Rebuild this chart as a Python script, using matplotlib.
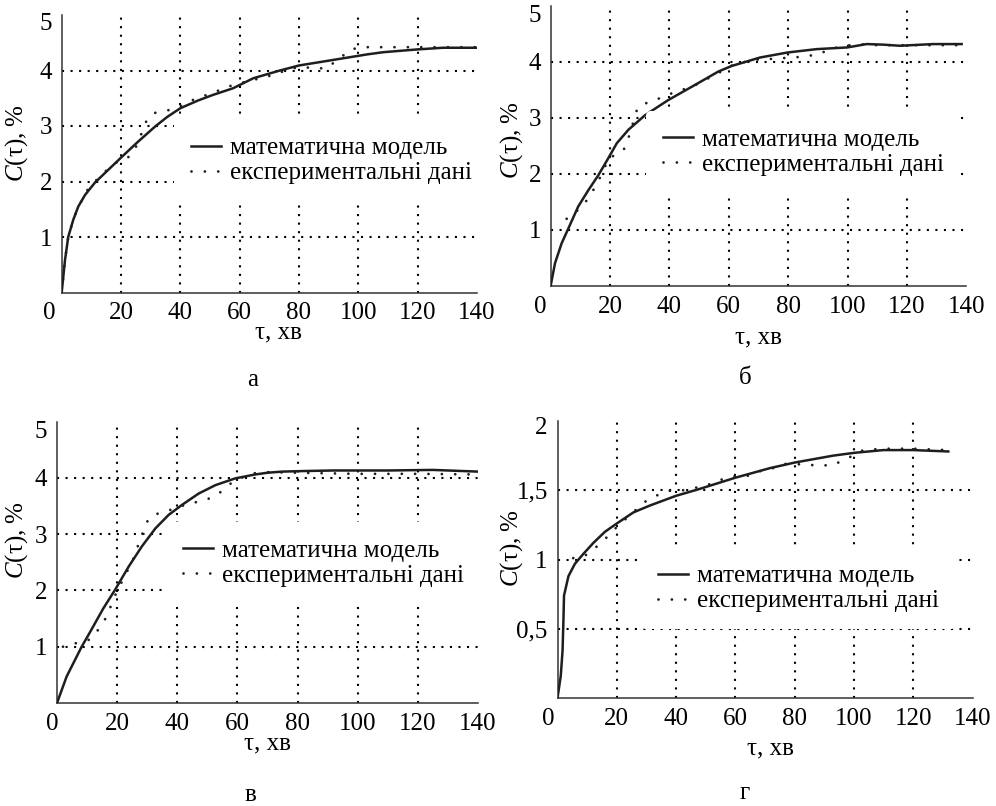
import matplotlib
matplotlib.use('Agg')
import matplotlib.pyplot as plt
from matplotlib.transforms import ScaledTranslation

plt.rcParams['font.family'] = ['Liberation Serif', 'DejaVu Serif']
plt.rcParams['mathtext.fontset'] = 'custom'
plt.rcParams['mathtext.rm'] = 'Liberation Serif'
plt.rcParams['mathtext.it'] = 'Liberation Serif:italic'

# ---- data ----
x_ticks = [0, 20, 40, 60, 80, 100, 120, 140]
grid_x = [20, 40, 60, 80, 100, 120]

# panel a
a_model_x = [0, 1.1, 2.2, 3.9, 5.6, 7.9, 11.2, 15.7, 20.2, 25.8, 31.5, 35.5, 40, 46, 51, 57.8, 64.6, 73.6, 80,
             91.5, 103, 108.5, 120, 128.6, 140]
a_model_y = [0, 0.58, 1.0, 1.31, 1.55, 1.76, 1.98, 2.21, 2.44, 2.72, 2.99, 3.16, 3.32, 3.46, 3.56, 3.68, 3.86, 4.0, 4.09,
             4.19, 4.29, 4.33, 4.38, 4.41, 4.41]
a_exp_x = [0, 1.1, 2.2, 3.9, 5.6, 7.9, 9, 14, 16.9, 19.7, 23, 24.7, 26.1, 27.5, 28.7, 30.9, 34.3, 37.6, 41, 44.3,
           48.9, 53.4, 57.8, 64.6, 71.4, 76, 80.4, 84.8, 89.5, 91.5, 93.8, 97.2, 100.6, 110, 120, 130, 140]
a_exp_y = [0, 0.58, 1.0, 1.31, 1.55, 1.76, 1.88, 2.15, 2.28, 2.39, 2.45, 2.58, 2.76, 2.94, 3.11, 3.23, 3.27, 3.30, 3.38, 3.47,
           3.56, 3.65, 3.74, 3.83, 3.92, 4.01, 4.07, 4.04, 4.04, 4.13, 4.22, 4.37, 4.42, 4.42, 4.42, 4.42, 4.42]

# panel b
b_model_x = [0, 1.5, 3.7, 6, 9.3, 12.7, 16.1, 19.4, 22.3, 26.2, 31.8, 39.6, 48.6, 56.5, 61, 65.5, 70.5, 79.8, 89.6,
             99.9, 106.4, 112, 117.6, 128.8, 138.4]
b_model_y = [0, 0.41, 0.76, 1.03, 1.42, 1.71, 1.98, 2.28, 2.55, 2.79, 3.05, 3.32, 3.59, 3.83, 3.93, 4.0, 4.08, 4.17, 4.23,
             4.26, 4.32, 4.31, 4.29, 4.32, 4.32]
b_exp_x = [5.4, 11, 12.7, 14.7, 16.3, 18.1, 19.4, 22.6, 25, 26.2, 28.2, 29.3, 32.4, 35.7, 39.1, 42.5, 45.8, 49.2, 52,
           55.4, 61.5, 68.3, 72.8, 78.4, 84, 89.6, 93, 96.4, 99.7, 103, 110, 120, 130, 138]
b_exp_y = [1.2, 1.43, 1.58, 1.74, 1.9, 2.1, 2.28, 2.36, 2.46, 2.64, 2.99, 3.19, 3.27, 3.33, 3.41, 3.47, 3.53, 3.60, 3.68,
           3.77, 3.95, 4.04, 4.05, 4.07, 4.09, 4.13, 4.2, 4.26, 4.29, 4.32, 4.3, 4.3, 4.3, 4.3]

# panel v
v_model_x = [0, 3.2, 8.2, 11, 15.4, 19.3, 23.8, 28.2, 32.7, 37.1, 41.6, 47.1, 52.7, 59.3, 66, 70, 74.9, 82, 92, 110,
             125, 140]
v_model_y = [0, 0.47, 1.0, 1.26, 1.68, 2.01, 2.42, 2.78, 3.10, 3.34, 3.52, 3.72, 3.87, 3.99, 4.06, 4.09, 4.11, 4.12, 4.13,
             4.13, 4.14, 4.11]
v_exp_x = [2, 4.3, 7.7, 11, 13.4, 15.4, 17.1, 18.2, 19.9, 22.7, 25.8, 26.9, 28.2, 29.1, 31, 34.3, 37.7, 41, 44.3,
           47.7, 51, 53.8, 56.6, 59.3, 65.4, 70, 80, 100, 120, 140]
v_exp_y = [1.0, 1.05, 1.07, 1.13, 1.28, 1.43, 1.6, 1.77, 1.98, 2.27, 2.61, 2.79, 2.97, 3.14, 3.31, 3.38, 3.43, 3.49, 3.55,
           3.58, 3.64, 3.72, 3.85, 3.96, 4.08, 4.1, 4.09, 4.07, 4.07, 4.06]

# panel g
g_model_x = [0, 1.1, 1.7, 2.0, 2.2, 3.7, 5.9, 8.7, 12.1, 16, 20, 25.6, 31.2, 40, 48, 59.9, 71.7, 80, 93, 100,
             109.9, 120, 131.8]
g_model_y = [0, 0.16, 0.34, 0.56, 0.74, 0.88, 0.97, 1.04, 1.12, 1.20, 1.26, 1.34, 1.39, 1.46, 1.51, 1.59, 1.66, 1.70,
             1.75, 1.77, 1.79, 1.79, 1.78]
g_exp_x = [5.3, 8.7, 11.5, 14.1, 16.6, 18.8, 21.3, 26.5, 29, 32.1, 35.5, 38.5, 42.4, 49.2, 52.3, 55.7, 59.1, 62.7,
           66, 69.4, 72.8, 76.2, 79.5, 87.4, 93, 96.4, 99.8, 103.1, 110, 120, 131.3]
g_exp_y = [1.01, 1.02, 1.06, 1.11, 1.16, 1.21, 1.26, 1.36, 1.41, 1.45, 1.48, 1.50, 1.50, 1.53, 1.55, 1.58, 1.60, 1.60,
           1.61, 1.65, 1.66, 1.69, 1.69, 1.68, 1.68, 1.72, 1.75, 1.79, 1.80, 1.80, 1.79]

y_ticks_5 = [1, 2, 3, 4, 5]
y_labels_5 = ['1', '2', '3', '4', '5']
grid_y_5 = [1, 2, 3, 4]
y_ticks_2 = [0.5, 1, 1.5, 2]
y_labels_2 = ['0,5', '1', '1,5', '2']
grid_y_2 = [0.5, 1, 1.5]

legend_labels = ['математична модель', 'експериментальні дані']
panel_letters = ['а', 'б', 'в', 'г']

W, H = 996, 806
FS = 18


def rect(x0, x1, y0, y1):
    # pixel box -> figure fraction
    return [x0 / W, 1 - y0 / H, (x1 - x0) / W, (y0 - y1) / H]


def shift(label, dx, dy):
    label.set_transform(label.get_transform() + ScaledTranslation(dx / 100, dy / 100, fig.dpi_scale_trans))


def draw_panel(ax, mx, my, ex, ey, ylim, yticks, ylabels, grid_y, leg_xy, zero_dx, top_dy):
    for gx in grid_x:
        ax.axvline(gx, color='black', lw=1.5, ls=(0, (1, 3.1)), zorder=1)
    for gy in grid_y:
        ax.axhline(gy, color='black', lw=1.5, ls=(0, (1, 3.1)), zorder=1)
    ax.plot(mx, my, color='#1e1e1e', lw=1.8, solid_joinstyle='round', label=legend_labels[0], zorder=3)
    ax.plot(ex, ey, color='#1e1e1e', lw=2.0, ls=(0, (0.01, 4.8)), dash_capstyle='round',
            label=legend_labels[1], zorder=2)
    ax.set_xlim(0, 140)
    ax.set_ylim(*ylim)
    ax.set_xticks(x_ticks)
    ax.set_yticks(yticks)
    ax.set_yticklabels(ylabels)
    ax.tick_params(length=0, labelsize=FS, pad=7)
    for s in ['top', 'right']:
        ax.spines[s].set_visible(False)
    for s in ['left', 'bottom']:
        ax.spines[s].set_color('#333333')
        ax.spines[s].set_linewidth(1.1)
    ax.patch.set_alpha(0)
    # small offsets of the "0" and top labels seen in the original
    shift(ax.get_xticklabels()[0], zero_dx, 0)
    shift(ax.get_yticklabels()[-1], 0, -top_dy)
    leg = ax.legend(loc='center left', bbox_to_anchor=leg_xy, fontsize=FS, frameon=True,
                    facecolor='white', edgecolor='none', framealpha=1, borderpad=0.68,
                    borderaxespad=0, handlelength=1.2, handletextpad=0.36, labelspacing=0.1)
    leg.set_zorder(5)


fig = plt.figure(figsize=(W / 100, H / 100), dpi=100)

ax_a = fig.add_axes(rect(61.7, 476.8, 292.5, 15))
ax_b = fig.add_axes(rect(550.6, 966.4, 286, 6))
ax_v = fig.add_axes(rect(57, 478, 703, 421.5))
ax_g = fig.add_axes(rect(557.5, 972.6, 698, 421))

draw_panel(ax_a, a_model_x, a_model_y, a_exp_x, a_exp_y, (0, 5), y_ticks_5, y_labels_5, grid_y_5,
           (0.27, 0.475), -12, 6)
draw_panel(ax_b, b_model_x, b_model_y, b_exp_x, b_exp_y, (0, 5), y_ticks_5, y_labels_5, grid_y_5,
           (0.23, 0.478), -10, 7)
draw_panel(ax_v, v_model_x, v_model_y, v_exp_x, v_exp_y, (0, 5), y_ticks_5, y_labels_5, grid_y_5,
           (0.26, 0.497), -5, 8)
draw_panel(ax_g, g_model_x, g_model_y, g_exp_x, g_exp_y, (0, 2), y_ticks_2, y_labels_2, grid_y_2,
           (0.20, 0.395), -9, 4)

# axis titles and panel letters (pixel positions)
xlabels = [(278, 332), (758, 337), (267, 743), (770, 748)]
ylabels = [(17, 143), (512, 140), (17, 540), (512, 548)]
letters = [(253, 380), (745, 378), (250, 795), (745, 793)]
for (xx, xy), (yx, yy), (lx, ly), let in zip(xlabels, ylabels, letters, panel_letters):
    fig.text(xx / W, 1 - xy / H, 'τ, хв', fontsize=FS, ha='center', va='center')
    fig.text(yx / W, 1 - yy / H, r'$C$(τ), %', fontsize=FS, ha='center', va='center', rotation=90)
    fig.text(lx / W, 1 - ly / H, let, fontsize=FS, ha='center', va='center')

fig.savefig('out.png', dpi=100)
